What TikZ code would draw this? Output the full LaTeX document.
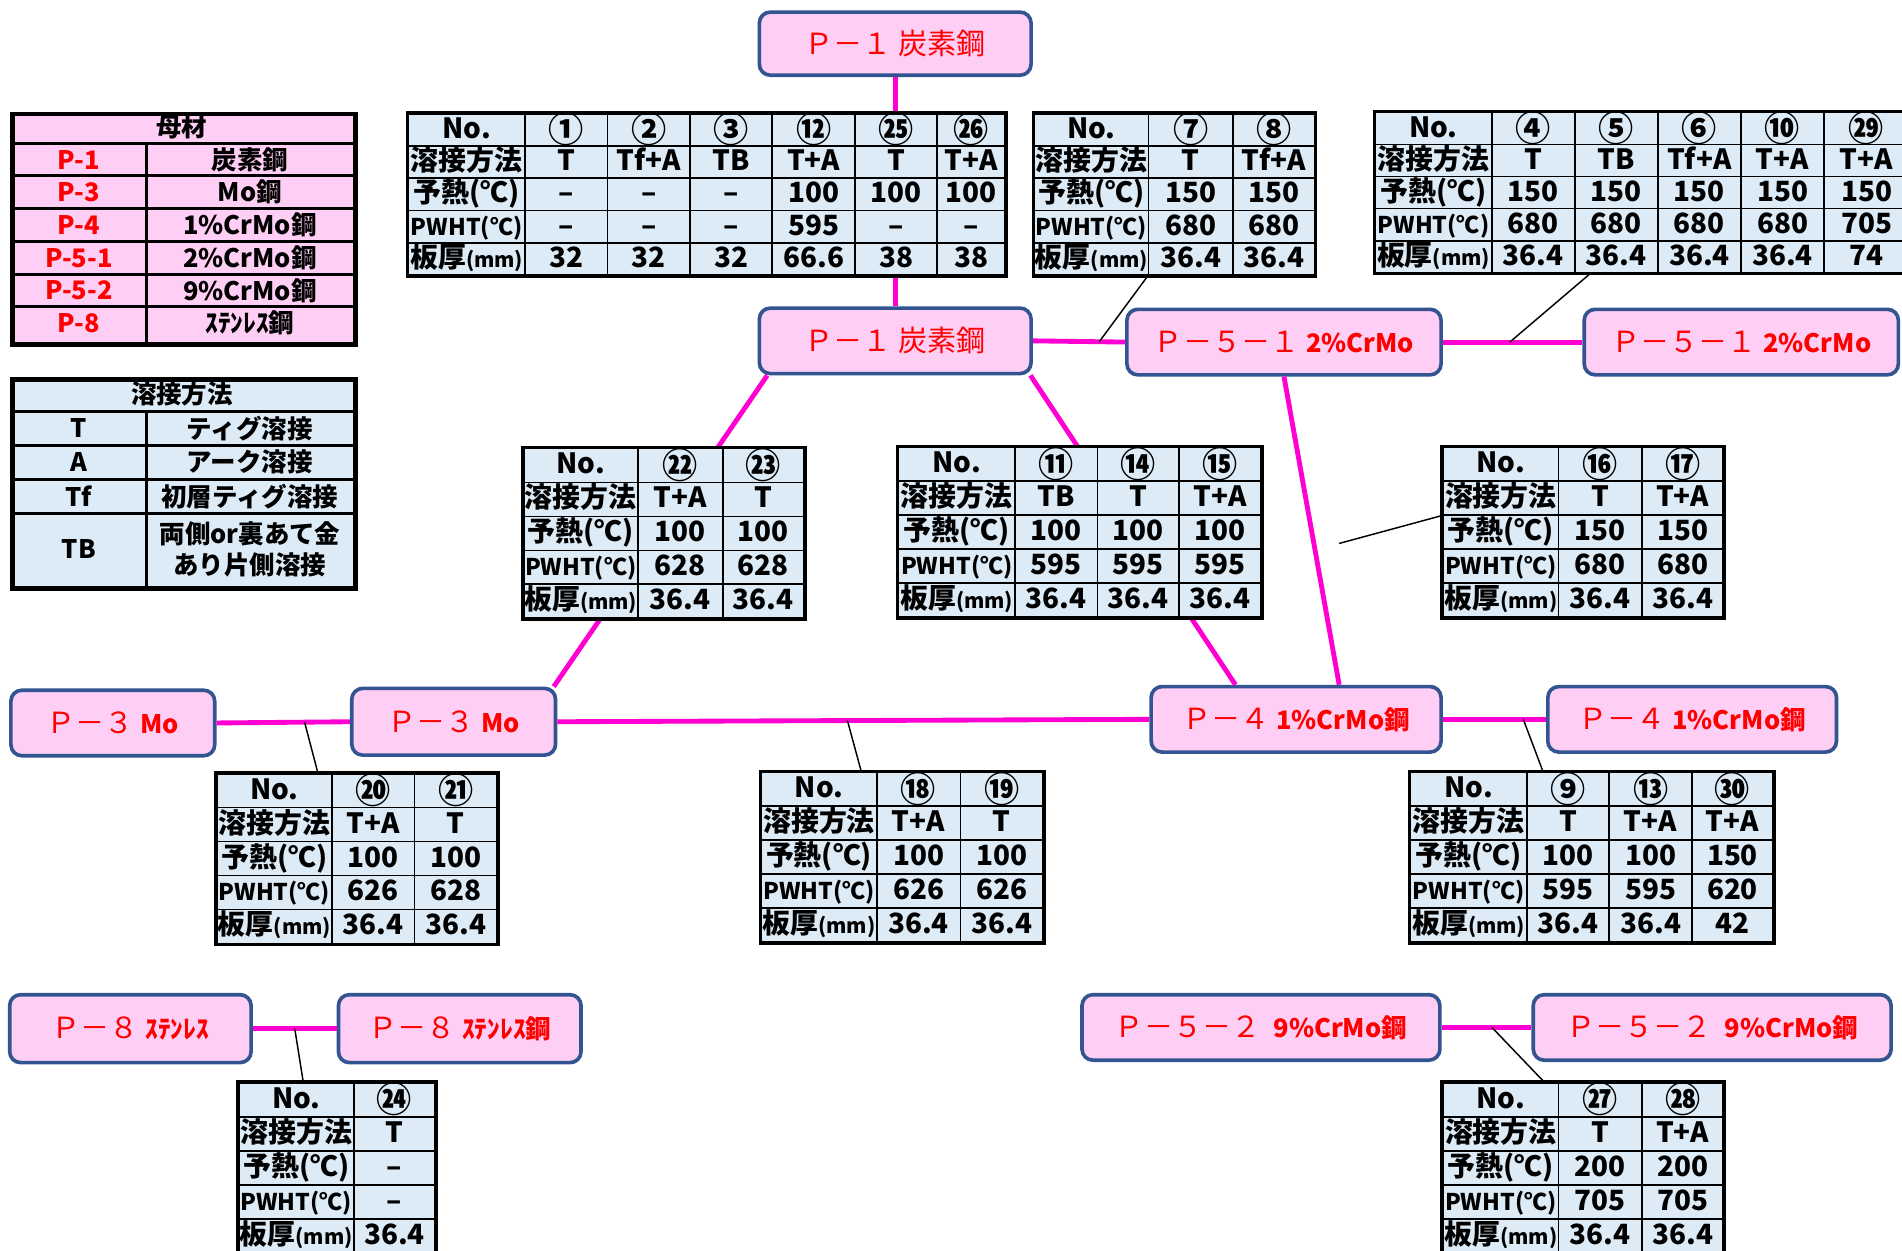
\documentclass[tikz,border=0pt]{standalone}
\usepackage{fontspec}
\newfontfamily\jp{Noto Sans CJK JP}
\usetikzlibrary{matrix,calc}
\definecolor{pinkfill}{RGB}{255,206,245}
\definecolor{boxline}{RGB}{50,84,145}
\definecolor{magline}{RGB}{255,0,210}
\definecolor{cellblue}{RGB}{221,235,247}
\definecolor{redtxt}{RGB}{255,0,0}
\newcommand\tfont{\jp\bfseries\fontsize{23}{23}\selectfont}
\newcommand\lfont{\jp\bfseries\fontsize{21}{26}\selectfont}
\newcommand\bfont{\jp\fontsize{24}{24}\selectfont}
\newcommand\sfx[1]{{\bfseries\fontsize{21}{21}\selectfont #1}}
\newcommand\cn[1]{\raisebox{-3.5pt}{\fontsize{29}{29}\selectfont #1}}
\newcommand\lbpre{予熱(℃)}
\newcommand\lbpw{{\fontsize{19}{19}\selectfont PWHT(℃)}}
\newcommand\lbth{板厚{\fontsize{17}{17}\selectfont (mm)}}
\begin{document}
\begin{tikzpicture}[x=1pt,y=-1pt,
 cellc/.style={draw=black, line width=1.5pt, fill=cellblue, inner sep=0pt, outer sep=0pt, anchor=center, minimum width=68pt, minimum height=28pt, text height=17pt, text depth=3pt, font=\tfont},
 wtab/.style={matrix of nodes, inner sep=0pt, outer sep=0pt, column sep=-1.5pt, row sep=-1.5pt, nodes={cellc}, anchor=north west, column 1/.style={nodes={minimum width=95pt}}},
 tframe/.style={draw=black, line width=3pt},
 mbox/.style={draw=boxline, line width=3pt, fill=pinkfill, rounded corners=9pt, text=redtxt, font=\bfont, inner sep=0pt},
 conn/.style={draw=magline, line width=4pt},
 callout/.style={draw=black, line width=1.2pt},
 lgt/.style={font=\lfont, inner sep=0pt, align=center}
]
\useasboundingbox (0,0) rectangle (1568,1031);
\clip (0,0) rectangle (1568,1031);
\fill[white] (0,0) rectangle (1568,1031);

% ---------- legend 1
\node[draw=black, line width=4pt, fill=pinkfill, minimum width=283pt, minimum height=190pt, anchor=north west, inner sep=0pt] (leg1) at (8,92) {};
\foreach \yy in {118,145,172,199,226,253} \draw[line width=2.5pt] (8,\yy) -- (291,\yy);
\draw[line width=2.5pt] (121,118) -- (121,282);
\node[lgt] (leg1h) at (150,105) {母材};
\foreach \yy/\aa/\bb [count=\i] in {131.5/P-1/炭素鋼, 158.5/P-3/Mo鋼, 185.5/P-4/1\%CrMo鋼, 212.5/P-5-1/2\%CrMo鋼, 239.5/P-5-2/9\%CrMo鋼, 266.5/P-8/ｽﾃﾝﾚｽ鋼}{
 \node[lgt, text=redtxt] (la\i) at (65,\yy) {\aa};
 \node[lgt] (lb\i) at (206,\yy) {\bb};
}
% ---------- legend 2
\node[draw=black, line width=4pt, fill=cellblue, minimum width=283pt, minimum height=172pt, anchor=north west, inner sep=0pt] (leg2) at (8,311) {};
\foreach \yy in {339,367,395,423} \draw[line width=2.5pt] (8,\yy) -- (291,\yy);
\draw[line width=2.5pt] (121,339) -- (121,483);
\node[lgt] (leg2h) at (150,325) {溶接方法};
\node[lgt] (lc1) at (65,353) {T};
\node[lgt] (ld1) at (206,353) {ティグ溶接};
\node[lgt] (lc2) at (65,381) {A};
\node[lgt] (ld2) at (206,381) {アーク溶接};
\node[lgt] (lc3) at (65,409) {Tf};
\node[lgt] (ld3) at (206,409) {初層ティグ溶接};
\node[lgt] (lc4) at (65,453) {TB};
\node[lgt] (ld4) at (206,453) {両側or裏あて金\\あり片側溶接};

% ---------- material boxes
\node[mbox, minimum width=224pt, minimum height=52pt] (p1t) at (738,36) {Ｐ－１ 炭素鋼};
\node[mbox, minimum width=224pt, minimum height=54pt] (p1m) at (738,281) {Ｐ－１ 炭素鋼};
\node[mbox, minimum width=259pt, minimum height=54pt] (p51a) at (1058.5,282) {Ｐ－５－１ \sfx{2\%CrMo}};
\node[mbox, minimum width=259pt, minimum height=54pt] (p51b) at (1435.5,282) {Ｐ－５－１ \sfx{2\%CrMo}};
\node[mbox, minimum width=168pt, minimum height=54pt] (p3a) at (93,596) {Ｐ－３ \sfx{Mo}};
\node[mbox, minimum width=168pt, minimum height=55pt] (p3b) at (374,595) {Ｐ－３ \sfx{Mo}};
\node[mbox, minimum width=239pt, minimum height=54pt] (p4a) at (1068.5,593) {Ｐ－４ \sfx{1\%CrMo鋼}};
\node[mbox, minimum width=238pt, minimum height=54pt] (p4b) at (1395,593) {Ｐ－４ \sfx{1\%CrMo鋼}};
\node[mbox, minimum width=199pt, minimum height=56pt] (p8a) at (107.5,848) {Ｐ－８ \sfx{ｽﾃﾝﾚｽ}};
\node[mbox, minimum width=200pt, minimum height=56pt] (p8b) at (379,848) {Ｐ－８ \sfx{ｽﾃﾝﾚｽ鋼}};
\node[mbox, minimum width=295pt, minimum height=54pt] (p52a) at (1039.5,847) {Ｐ－５－２\ \ \sfx{9\%CrMo鋼}};
\node[mbox, minimum width=295pt, minimum height=54pt] (p52b) at (1411.5,847) {Ｐ－５－２\ \ \sfx{9\%CrMo鋼}};

% ---------- connectors
\draw[conn] (p1t.south) -- (p1m.north);
\draw[conn] (p1m.east) -- (p51a.west);
\draw[conn] (p51a.east) -- (p51b.west);
\draw[conn] ($(p1m.south west)+(8,0)$) -- ($(p3b.north east)+(-3,0)$);
\draw[conn] ($(p1m.south east)+(-2,0)$) -- ($(p4a.north west)+(71,0)$);
\draw[conn] (p51a.south) -- ($(p4a.north)+(35.5,0)$);
\draw[conn] (p3a.east) -- (p3b.west);
\draw[conn] (p3b.east) -- (p4a.west);
\draw[conn] (p4a.east) -- (p4b.west);
\draw[conn] (p8a.east) -- (p8b.west);
\draw[conn] (p52a.east) -- (p52b.west);

\coordinate (c1) at ($(p1m.east)!0.72!(p51a.west)$);
\coordinate (c2) at ($(p51a.east)!0.48!(p51b.west)$);
\coordinate (c3) at (1104,448);
\coordinate (c4) at ($(p3a.east)!0.66!(p3b.west)$);
\coordinate (c5) at ($(p3b.east)!0.49!(p4a.west)$);
\coordinate (c6) at ($(p4a.east)!0.78!(p4b.west)$);
\coordinate (c7) at ($(p8a.east)!0.5!(p8b.west)$);
\coordinate (c8) at ($(p52a.east)!0.56!(p52b.west)$);

% ---------- tables
\matrix[wtab, nodes={minimum height=26.6pt}, column 1/.style={nodes={minimum width=96pt}}, column 7/.style={nodes={minimum width=56pt}}] (t1) at (336,93) {
No. & \cn{①} & \cn{②} & \cn{③} & \cn{⑫} & \cn{㉕} & \cn{㉖} \\
溶接方法 & T & Tf+A & TB & T+A & T & T+A \\
\lbpre & – & – & – & 100 & 100 & 100 \\
\lbpw & – & – & – & 595 & – & – \\
\lbth & 32 & 32 & 32 & 66.6 & 38 & 38 \\
};
\draw[tframe] (t1.north west) rectangle (t1.south east);

\matrix[wtab, nodes={minimum height=26.6pt}, column 1/.style={nodes={minimum width=94pt}}, column 2/.style={nodes={minimum width=70pt}}, column 3/.style={nodes={minimum width=67pt}}] (t2) at (852,93) {
No. & \cn{⑦} & \cn{⑧} \\
溶接方法 & T & Tf+A \\
\lbpre & 150 & 150 \\
\lbpw & 680 & 680 \\
\lbth & 36.4 & 36.4 \\
};
\draw[tframe] (t2.north west) rectangle (t2.south east);

\matrix[wtab, nodes={minimum height=26.4pt, minimum width=68.5pt}, column 1/.style={nodes={minimum width=96pt}}, column 6/.style={nodes={minimum width=70pt}}] (t3) at (1133,92) {
No. & \cn{④} & \cn{⑤} & \cn{⑥} & \cn{⑩} & \cn{㉙} \\
溶接方法 & T & TB & Tf+A & T+A & T+A \\
\lbpre & 150 & 150 & 150 & 150 & 150 \\
\lbpw & 680 & 680 & 680 & 680 & 705 \\
\lbth & 36.4 & 36.4 & 36.4 & 36.4 & 74 \\
};
\draw[tframe] (t3.north west) rectangle (t3.south east);

\matrix[wtab, column 1/.style={nodes={minimum width=94pt}}, column 2/.style={nodes={minimum width=70pt}}, column 3/.style={nodes={minimum width=67pt}}] (t4) at (431,369) {
No. & \cn{㉒} & \cn{㉓} \\
溶接方法 & T+A & T \\
\lbpre & 100 & 100 \\
\lbpw & 628 & 628 \\
\lbth & 36.4 & 36.4 \\
};
\draw[tframe] (t4.north west) rectangle (t4.south east);

\matrix[wtab, column 1/.style={nodes={minimum width=96pt}}, column 3/.style={nodes={minimum width=67pt}}] (t5) at (740,368) {
No. & \cn{⑪} & \cn{⑭} & \cn{⑮} \\
溶接方法 & TB & T & T+A \\
\lbpre & 100 & 100 & 100 \\
\lbpw & 595 & 595 & 595 \\
\lbth & 36.4 & 36.4 & 36.4 \\
};
\draw[tframe] (t5.north west) rectangle (t5.south east);

\matrix[wtab, column 2/.style={nodes={minimum width=69pt}}, column 3/.style={nodes={minimum width=67pt}}] (t6) at (1189,368) {
No. & \cn{⑯} & \cn{⑰} \\
溶接方法 & T & T+A \\
\lbpre & 150 & 150 \\
\lbpw & 680 & 680 \\
\lbth & 36.4 & 36.4 \\
};
\draw[tframe] (t6.north west) rectangle (t6.south east);

\matrix[wtab] (t7) at (178,637) {
No. & \cn{⑳} & \cn{㉑} \\
溶接方法 & T+A & T \\
\lbpre & 100 & 100 \\
\lbpw & 626 & 628 \\
\lbth & 36.4 & 36.4 \\
};
\draw[tframe] (t7.north west) rectangle (t7.south east);

\matrix[wtab, column 2/.style={nodes={minimum width=69pt}}] (t8) at (627,636) {
No. & \cn{⑱} & \cn{⑲} \\
溶接方法 & T+A & T \\
\lbpre & 100 & 100 \\
\lbpw & 626 & 626 \\
\lbth & 36.4 & 36.4 \\
};
\draw[tframe] (t8.north west) rectangle (t8.south east);

\matrix[wtab, column 1/.style={nodes={minimum width=96pt}}, column 4/.style={nodes={minimum width=67pt}}] (t9) at (1162,636) {
No. & \cn{⑨} & \cn{⑬} & \cn{㉚} \\
溶接方法 & T & T+A & T+A \\
\lbpre & 100 & 100 & 150 \\
\lbpw & 595 & 595 & 620 \\
\lbth & 36.4 & 36.4 & 42 \\
};
\draw[tframe] (t9.north west) rectangle (t9.south east);

\matrix[wtab, column 2/.style={nodes={minimum width=67pt}}] (t10) at (196,892) {
No. & \cn{㉔} \\
溶接方法 & T \\
\lbpre & – \\
\lbpw & – \\
\lbth & 36.4 \\
};
\draw[tframe] (t10.north west) rectangle (t10.south east);

\matrix[wtab, column 2/.style={nodes={minimum width=69pt}}, column 3/.style={nodes={minimum width=67pt}}] (t11) at (1189,892) {
No. & \cn{㉗} & \cn{㉘} \\
溶接方法 & T & T+A \\
\lbpre & 200 & 200 \\
\lbpw & 705 & 705 \\
\lbth & 36.4 & 36.4 \\
};
\draw[tframe] (t11.north west) rectangle (t11.south east);

% ---------- callouts
\draw[callout] (t2-5-1.south east) -- (c1);
\draw[callout] ($(t3.south west)+(178,0)$) -- (c2);
\draw[callout] (t6-2-1.south west) -- (c3);
\draw[callout] ($(t7.north west)+(84,0)$) -- (c4);
\draw[callout] ($(t8.north west)+(83,0)$) -- (c5);
\draw[callout] ($(t9.north west)+(110,0)$) -- (c6);
\draw[callout] ($(t10.north west)+(54,0)$) -- (c7);
\draw[callout] ($(t11.north west)+(84,0)$) -- (c8);
\end{tikzpicture}
\end{document}
